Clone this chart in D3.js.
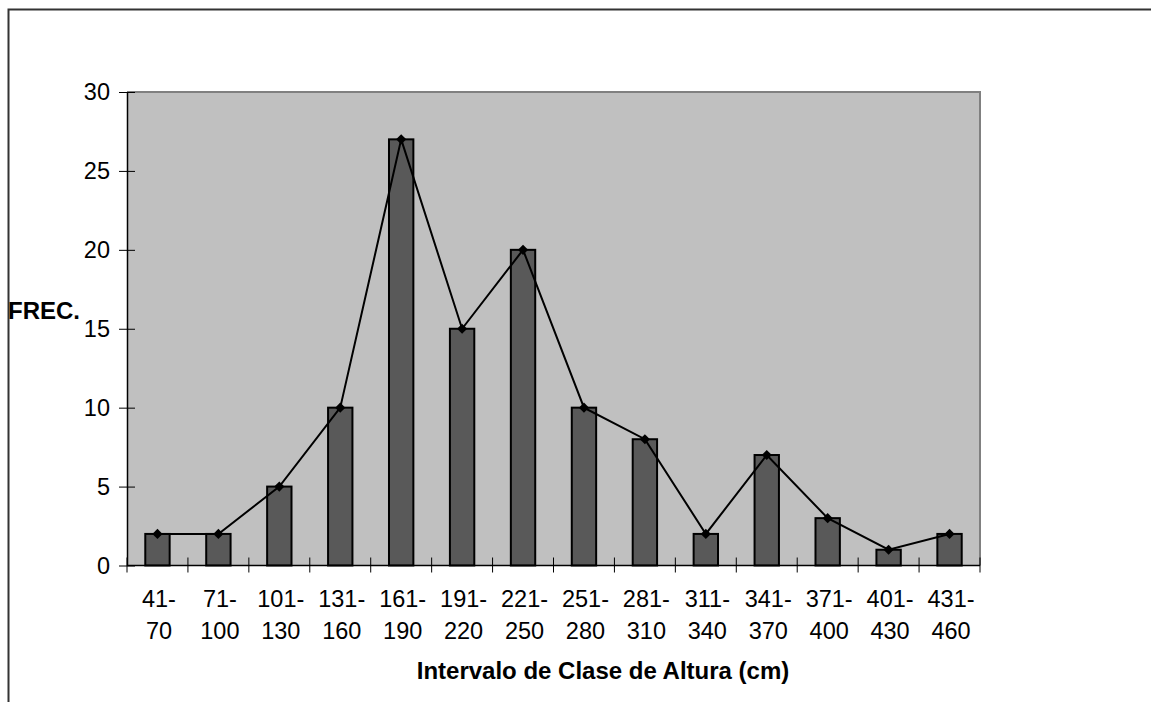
<!DOCTYPE html>
<html>
<head>
<meta charset="utf-8">
<script src="https://cdn.jsdelivr.net/npm/d3@7"></script>
<style>
  body { margin: 0; background: #fff; }
  svg { display: block; font-family: Arial, "Liberation Sans", sans-serif; }
</style>
</head>
<body>
<div id="chart"></div>
<script>
// class intervals (two text lines each) and frequencies
var intervalStart = ["41-", "71-", "101-", "131-", "161-", "191-", "221-", "251-", "281-", "311-", "341-", "371-", "401-", "431-"];
var intervalEnd   = ["70", "100", "130", "160", "190", "220", "250", "280", "310", "340", "370", "400", "430", "460"];
var frequencies   = [2, 2, 5, 10, 27, 15, 20, 10, 8, 2, 7, 3, 1, 2];
var yTicks        = [0, 5, 10, 15, 20, 25, 30];

var W = 1151, H = 702;
var plot = {left: 127, right: 980, top: 92, bottom: 565.5};

var svg = d3.select("#chart").append("svg")
  .attr("width", W)
  .attr("height", H);

// outer chart frame (cut off at right and bottom)
svg.append("path")
  .attr("d", "M8.5," + H + " V9.5 H" + W)
  .attr("fill", "none")
  .attr("stroke", "#333")
  .attr("stroke-width", 2);

var cats = intervalStart.map((s, i) => s + intervalEnd[i]);
var data = cats.map((c, i) => ({cat: c, top: intervalStart[i], bot: intervalEnd[i], value: frequencies[i]}));

var x = d3.scaleBand()
  .domain(cats)
  .range([plot.left, plot.right])
  .padding(0);

var y = d3.scaleLinear()
  .domain([0, 30])
  .range([plot.bottom, plot.top]);

var barW = x.bandwidth() * 0.4;
var cx = d => x(d.cat) + x.bandwidth() / 2;

// plot area
svg.append("rect")
  .attr("x", plot.left)
  .attr("y", plot.top)
  .attr("width", plot.right - plot.left)
  .attr("height", plot.bottom - plot.top)
  .attr("fill", "#c0c0c0");
svg.append("path")
  .attr("d", "M" + plot.left + "," + plot.top + " H" + plot.right + " V" + plot.bottom)
  .attr("fill", "none")
  .attr("stroke", "#808080")
  .attr("stroke-width", 2);

// bars
svg.selectAll(".bar")
  .data(data)
  .enter()
  .append("rect")
  .attr("class", "bar")
  .attr("x", d => cx(d) - barW / 2)
  .attr("y", d => y(d.value))
  .attr("width", barW)
  .attr("height", d => y(0) - y(d.value))
  .attr("fill", "#595959")
  .attr("stroke", "#000")
  .attr("stroke-width", 2);

// Y axis
var yAxis = svg.append("g")
  .attr("transform", "translate(" + plot.left + ",0)")
  .call(d3.axisLeft(y).tickValues(yTicks).tickSizeInner(8).tickSizeOuter(0).tickPadding(9));
yAxis.select(".domain").attr("stroke", "#000").attr("stroke-width", 1.5);
yAxis.selectAll(".tick line").attr("x1", 8).attr("stroke", "#000");
yAxis.selectAll(".tick text")
  .attr("fill", "#000")
  .style("font-size", "23.5px")
  .style("font-family", "Arial, 'Liberation Sans', sans-serif");

// X axis line and boundary ticks
svg.append("line")
  .attr("x1", plot.left).attr("x2", plot.right)
  .attr("y1", plot.bottom).attr("y2", plot.bottom)
  .attr("stroke", "#000").attr("stroke-width", 1.5);
var bounds = cats.map(c => x(c)).concat([plot.right]);
svg.selectAll(".xtick")
  .data(bounds)
  .enter()
  .append("line")
  .attr("class", "xtick")
  .attr("x1", d => d).attr("x2", d => d)
  .attr("y1", plot.bottom - 8).attr("y2", plot.bottom + 7)
  .attr("stroke", "#000").attr("stroke-width", 1);

// X tick labels, two lines each
var xl = svg.selectAll(".xlabel")
  .data(data)
  .enter()
  .append("text")
  .attr("class", "xlabel")
  .attr("text-anchor", "middle")
  .style("font-size", "23.5px")
  .attr("fill", "#000");
xl.append("tspan").attr("x", d => cx(d) + 1.5).attr("y", 607).text(d => d.top);
xl.append("tspan").attr("x", d => cx(d) + 1.5).attr("y", 639).text(d => d.bot);

// frequency polygon
svg.append("path")
  .datum(data)
  .attr("fill", "none")
  .attr("stroke", "#000")
  .attr("stroke-width", 2)
  .attr("d", d3.line().x(cx).y(d => y(d.value)));

svg.selectAll(".marker")
  .data(data)
  .enter()
  .append("path")
  .attr("class", "marker")
  .attr("transform", d => "translate(" + cx(d) + "," + y(d.value) + ")")
  .attr("d", d3.symbol().type(d3.symbolDiamond2).size(66))
  .attr("fill", "#000");

// axis titles
svg.append("text")
  .attr("x", 8)
  .attr("y", 319)
  .style("font-size", "24px")
  .style("font-weight", "bold")
  .text("FREC.");

svg.append("text")
  .attr("x", 603)
  .attr("y", 679)
  .attr("text-anchor", "middle")
  .style("font-size", "24px")
  .style("font-weight", "bold")
  .text("Intervalo de Clase de Altura (cm)");
</script>
</body>
</html>
